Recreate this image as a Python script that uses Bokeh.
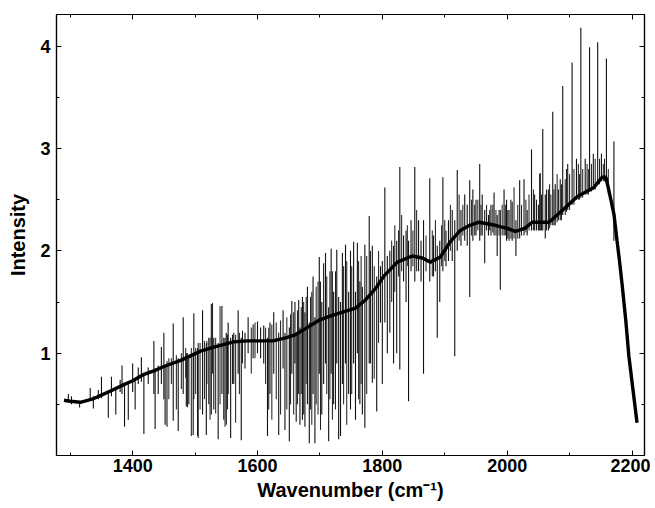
from bokeh.plotting import figure
from bokeh.models import LinearAxis, FixedTicker, Range1d, CustomJSTickFormatter
from bokeh.embed import file_html
from bokeh.resources import INLINE

# ---- data ----
base_wn = [1290, 1300, 1316, 1335, 1350, 1368, 1385, 1400, 1417, 1435, 1450, 1477, 1509,
           1530, 1562, 1584, 1605, 1625, 1645, 1660, 1677, 1698, 1715, 1730, 1757, 1773,
           1789, 1802, 1824, 1848, 1864, 1877, 1893, 1909, 1925, 1940, 1955, 1981, 2000,
           2013, 2028, 2040, 2067, 2089, 2112, 2139, 2152, 2158, 2163, 2171, 2176, 2180,
           2184, 2190, 2195, 2202, 2208]
base_val = [0.54, 0.53, 0.52, 0.55, 0.59, 0.64, 0.69, 0.73, 0.79, 0.83, 0.87, 0.93, 1.02,
            1.06, 1.11, 1.12, 1.12, 1.12, 1.15, 1.18, 1.24, 1.32, 1.36, 1.39, 1.44, 1.52,
            1.63, 1.75, 1.89, 1.95, 1.93, 1.89, 1.94, 2.09, 2.20, 2.25, 2.28, 2.25, 2.22,
            2.19, 2.22, 2.28, 2.28, 2.40, 2.53, 2.62, 2.72, 2.72, 2.59, 2.36, 2.10, 1.90,
            1.68, 1.32, 0.97, 0.62, 0.32]

# main lines (position, lower end, upper end)
spike_wn = [1297, 1302, 1315, 1332, 1337, 1345, 1350, 1361, 1366, 1373, 1380, 1383, 1387,
            1393, 1400, 1404, 1409, 1414, 1418, 1425, 1434, 1436, 1441, 1446, 1450, 1452,
            1455, 1465, 1473, 1481, 1486, 1490, 1497, 1498, 1504, 1512, 1518, 1522, 1526,
            1530, 1537, 1543, 1546, 1550, 1553, 1557, 1562, 1569, 1574, 1580, 1585, 1593,
            1600, 1605, 1610, 1616, 1620, 1626, 1634, 1641, 1644, 1651, 1655, 1660, 1662,
            1666, 1668, 1672, 1676, 1680, 1683, 1689, 1692, 1699, 1703, 1706, 1709, 1714,
            1718, 1722, 1727, 1730, 1733, 1736, 1741, 1746, 1749, 1754, 1757, 1760, 1764,
            1768, 1772, 1779, 1784, 1791, 1797, 1800, 1804, 1808, 1812, 1818, 1823, 1828,
            1834, 1838, 1842, 1846, 1852, 1858, 1862, 1866, 1876, 1882, 1888, 1892, 1897,
            1902, 1906, 1912, 1916, 1920, 1926, 1932, 1936, 1940, 1945, 1950, 1956, 1960,
            1964, 1970, 1974, 1979, 1984, 1989, 1995, 1999, 2003, 2008, 2014, 2020, 2027,
            2032, 2039, 2044, 2050, 2053, 2057, 2061, 2066, 2073, 2077, 2082, 2085, 2089,
            2097, 2104, 2111, 2118, 2125, 2132, 2138, 2145, 2151, 2159, 2171]
spike_lo = [0.52, 0.50, 0.47, 0.56, 0.46, 0.55, 0.56, 0.37, 0.58, 0.40, 0.62, 0.60, 0.28,
            0.35, 0.62, 0.45, 0.70, 0.72, 0.21, 0.70, 0.60, 0.26, 0.60, 0.70, 0.55, 0.30,
            0.28, 0.34, 0.24, 0.60, 0.48, 0.50, 0.20, 0.55, 0.19, 0.40, 0.20, 0.50, 0.40,
            0.45, 0.16, 0.60, 0.35, 0.30, 0.60, 0.17, 0.70, 0.80, 0.15, 0.85, 1.00, 0.95,
            1.00, 0.95, 0.90, 0.19, 0.60, 0.80, 0.20, 0.85, 0.25, 0.14, 0.80, 0.90, 0.33,
            0.60, 0.30, 0.35, 0.28, 0.50, 0.12, 0.60, 0.12, 0.80, 0.40, 0.70, 0.90, 0.14,
            0.80, 0.50, 0.90, 0.16, 0.19, 0.70, 0.90, 0.60, 0.45, 0.90, 0.35, 1.00, 0.50,
            0.40, 0.27, 0.90, 0.71, 0.43, 1.30, 0.70, 1.30, 1.00, 1.20, 0.90, 1.00, 0.84,
            1.70, 1.50, 0.53, 1.80, 1.70, 1.80, 1.70, 0.80, 1.70, 1.75, 1.15, 1.50, 1.80,
            1.85, 1.90, 1.90, 0.97, 2.00, 2.05, 2.10, 2.05, 1.55, 2.10, 2.15, 2.10, 2.15,
            1.88, 2.15, 2.15, 2.15, 1.95, 1.62, 2.15, 2.10, 2.10, 2.10, 1.95, 2.12, 2.15,
            2.15, 2.20, 2.20, 2.20, 2.20, 2.20, 2.12, 2.20, 2.25, 2.25, 2.30, 2.30, 2.35,
            2.40, 2.45, 2.50, 2.52, 2.55, 2.58, 2.60, 2.65, 2.68, 2.68, 2.10]
spike_hi = [0.60, 0.58, 0.53, 0.66, 0.58, 0.64, 0.77, 0.62, 0.77, 0.66, 0.74, 0.88, 0.70,
            0.72, 0.90, 0.75, 0.86, 0.96, 0.80, 0.86, 1.12, 0.85, 0.88, 1.06, 1.20, 0.88,
            0.92, 1.29, 0.95, 1.35, 1.00, 0.98, 1.00, 1.39, 1.05, 1.42, 1.10, 1.15, 1.48,
            1.15, 1.10, 1.46, 1.15, 1.20, 1.30, 1.15, 1.20, 1.42, 1.15, 1.20, 1.35, 1.28,
            1.31, 1.25, 1.27, 1.15, 1.30, 1.40, 1.20, 1.42, 1.20, 1.25, 1.51, 1.50, 1.20,
            1.52, 1.25, 1.55, 1.40, 1.65, 1.30, 1.75, 1.35, 1.94, 1.50, 1.88, 1.98, 1.45,
            2.02, 1.60, 2.01, 1.55, 1.50, 1.98, 2.06, 1.60, 2.00, 2.09, 1.60, 2.08, 1.70,
            1.65, 2.06, 2.34, 2.05, 1.75, 1.85, 1.90, 2.62, 1.95, 2.00, 2.05, 2.10, 2.82,
            2.15, 2.20, 2.10, 2.30, 2.82, 2.30, 2.10, 2.30, 2.71, 2.15, 2.05, 2.10, 2.72,
            2.20, 2.30, 2.40, 2.30, 2.79, 2.40, 2.55, 2.45, 2.69, 2.60, 2.50, 2.85, 2.55,
            2.40, 2.35, 2.45, 2.57, 2.35, 2.40, 2.60, 2.50, 2.40, 2.48, 2.30, 2.69, 2.70,
            2.40, 2.99, 2.55, 2.45, 2.76, 3.19, 2.55, 2.60, 3.36, 2.65, 2.60, 2.70, 3.61,
            2.85, 3.84, 2.90, 4.18, 2.90, 3.99, 2.95, 4.04, 2.95, 3.88, 3.07]

# weaker lines filling the dense parts of the spectrum
minor_wn = [1458, 1462, 1470, 1478, 1485, 1488, 1494, 1501, 1505, 1508, 1515, 1519, 1524,
            1528, 1533, 1540, 1548, 1552, 1560, 1565, 1571, 1576, 1590, 1596, 1613, 1618,
            1623, 1630, 1637, 1647, 1653, 1658, 1664, 1670, 1674, 1678, 1685, 1687, 1694,
            1697, 1701, 1711, 1716, 1720, 1725, 1738, 1743, 1751, 1762, 1766, 1775, 1781,
            1787, 1794, 1815, 1820, 1826, 1831, 1840, 1849, 1855, 1870, 1880, 1885, 1895,
            1900, 1909, 1923, 1929, 1943, 1948, 1953, 1958, 1967, 1972, 1977, 1982, 1987,
            1992, 1997, 2001, 2006, 2011, 2017, 2023, 2030, 2035, 2042, 2047, 2052, 2055,
            2063, 2068, 2070, 2075, 2080, 2087, 2093, 2095, 2100, 2107, 2114, 2116, 2121,
            2128, 2130, 2135, 2141, 2148, 2154, 2156, 2162]
minor_lo = [0.55, 0.70, 0.45, 0.65, 0.76, 0.47, 0.19, 0.60, 0.17, 0.45, 0.55, 0.70, 0.35,
            0.80, 0.41, 0.50, 0.28, 0.45, 0.70, 0.32, 0.60, 0.90, 0.80, 0.95, 0.70, 0.45,
            0.35, 0.55, 0.40, 0.45, 0.50, 0.40, 0.50, 0.60, 0.40, 0.70, 0.45, 0.30, 0.50,
            0.40, 0.25, 0.60, 0.55, 0.35, 0.45, 0.50, 0.30, 0.60, 0.55, 0.70, 0.60, 0.90,
            0.75, 1.10, 1.50, 1.60, 1.75, 1.80, 1.85, 1.85, 1.80, 1.80, 1.75, 1.80, 1.85,
            1.90, 2.00, 2.10, 2.15, 2.15, 2.15, 2.20, 2.15, 2.20, 2.20, 2.18, 2.15, 2.15,
            2.15, 2.15, 2.12, 2.12, 2.12, 2.12, 2.15, 2.18, 2.20, 2.20, 2.20, 2.20, 2.20,
            2.20, 2.22, 2.25, 2.25, 2.28, 2.30, 2.35, 2.38, 2.40, 2.45, 2.50, 2.50, 2.52,
            2.55, 2.55, 2.58, 2.60, 2.65, 2.68, 2.68, 2.55]
minor_hi = [0.95, 0.95, 0.98, 1.00, 1.05, 1.00, 1.05, 1.05, 1.10, 1.10, 1.12, 1.12, 1.15,
            1.49, 1.15, 1.46, 1.15, 1.18, 1.18, 1.18, 1.20, 1.22, 1.25, 1.30, 1.25, 1.25,
            1.28, 1.30, 1.32, 1.35, 1.38, 1.40, 1.42, 1.45, 1.50, 1.55, 1.55, 1.60, 1.65,
            1.70, 1.70, 1.75, 1.80, 1.80, 1.80, 1.85, 1.90, 1.85, 1.90, 1.95, 1.95, 2.00,
            1.85, 2.00, 2.10, 2.25, 2.20, 2.35, 2.25, 2.20, 2.40, 2.15, 2.20, 2.30, 2.25,
            2.30, 2.45, 2.55, 2.45, 2.50, 2.45, 2.50, 2.45, 2.45, 2.40, 2.45, 2.40, 2.40,
            2.45, 2.45, 2.40, 2.50, 2.62, 2.45, 2.45, 2.50, 2.55, 2.60, 2.50, 2.75, 2.55,
            2.60, 2.65, 2.55, 2.60, 2.75, 2.65, 2.70, 2.80, 2.75, 2.80, 2.85, 2.75, 2.80,
            2.85, 2.80, 2.85, 2.90, 2.90, 2.85, 2.90, 2.80]

x_major = [1400, 1600, 1800, 2000, 2200]
x_minor = [1300, 1500, 1700, 1900, 2100]
y_major = [1, 2, 3, 4]
y_minor = [0.5, 1.5, 2.5, 3.5]

FONT = "Liberation Sans"

p = figure(frame_width=588, frame_height=441, output_backend="svg",
           toolbar_location=None, x_range=Range1d(1278, 2220), y_range=Range1d(0.0, 4.31),
           min_border_left=56, min_border_right=6, min_border_top=14, min_border_bottom=50)
p.grid.visible = False
p.outline_line_color = "black"
p.outline_line_width = 1.2
p.background_fill_color = "white"

p.segment(x0=minor_wn, y0=minor_lo, x1=minor_wn, y1=minor_hi, line_color="#1a1a1a",
          line_width=1)
p.segment(x0=spike_wn, y0=spike_lo, x1=spike_wn, y1=spike_hi, line_color="#111111",
          line_width=1.1)
p.line(base_wn, base_val, line_color="black", line_width=3.4)

def style(ax, labels=True):
    ax.axis_line_color = "black"
    ax.axis_line_width = 1.2
    ax.major_tick_in = 5
    ax.major_tick_out = 0
    ax.minor_tick_in = 3
    ax.minor_tick_out = 0
    ax.major_tick_line_color = "black"
    ax.minor_tick_line_color = "black"
    ax.major_label_text_font = FONT
    ax.major_label_text_font_style = "bold"
    ax.major_label_text_font_size = "18px"
    ax.major_label_text_color = "black"
    ax.axis_label_text_font = FONT
    ax.axis_label_text_font_style = "bold"
    ax.axis_label_text_font_size = "20px"
    ax.axis_label_text_color = "black"
    if not labels:
        ax.formatter = CustomJSTickFormatter(code="return ''")
        ax.major_label_standoff = 0

xt = FixedTicker(ticks=x_major, minor_ticks=x_minor)
yt = FixedTicker(ticks=y_major, minor_ticks=y_minor)

p.xaxis.ticker = xt
p.yaxis.ticker = yt
p.xaxis.axis_label = "Wavenumber (cm⁻¹)"
p.yaxis.axis_label = "Intensity"
style(p.xaxis[0])
style(p.yaxis[0])
p.xaxis.major_label_standoff = 3
p.xaxis.axis_label_standoff = 4
p.yaxis.major_label_standoff = 6
p.yaxis.axis_label_standoff = 8

top = LinearAxis(ticker=FixedTicker(ticks=x_major, minor_ticks=x_minor))
style(top, labels=False)
p.add_layout(top, "above")
right = LinearAxis(ticker=FixedTicker(ticks=y_major, minor_ticks=y_minor))
style(right, labels=False)
p.add_layout(right, "right")

open("out.html", "w").write(file_html(p, INLINE))
